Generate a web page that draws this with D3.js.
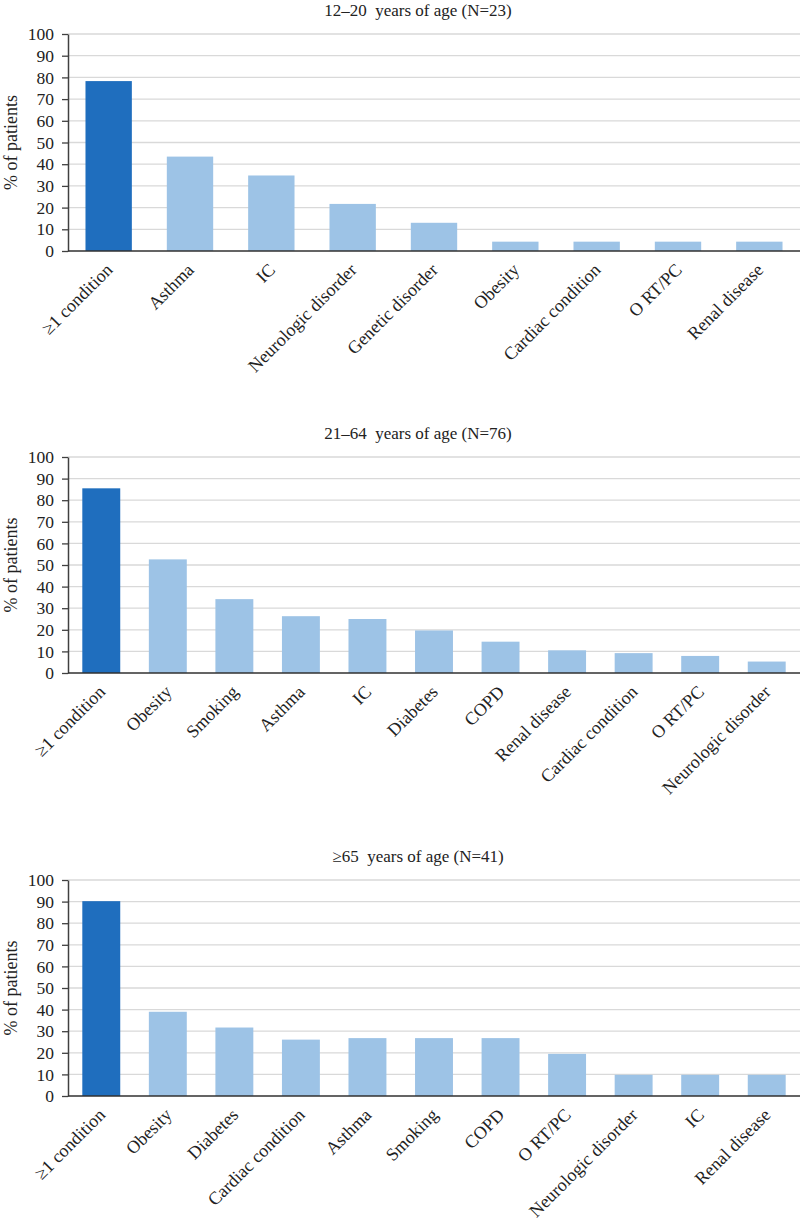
<!DOCTYPE html>
<html>
<head>
<meta charset="utf-8">
<script src="https://cdn.jsdelivr.net/npm/d3@7"></script>
<style>
  html, body { margin: 0; padding: 0; background: #fff; }
  svg { display: block; font-family: "Liberation Serif", "Times New Roman", serif; }
</style>
</head>
<body>
<svg width="800" height="1228"></svg>
<script>
const titles = [
  "12\u201320  years of age (N=23)",
  "21\u201364  years of age (N=76)",
  "\u226565  years of age (N=41)"
];

const cats1 = ["\u22651 condition", "Asthma", "IC", "Neurologic disorder", "Genetic disorder",
  "Obesity", "Cardiac condition", "O RT/PC", "Renal disease"];
const vals1 = [78.3, 43.5, 34.8, 21.7, 13.0, 4.3, 4.3, 4.3, 4.3];

const cats2 = ["\u22651 condition", "Obesity", "Smoking", "Asthma", "IC", "Diabetes", "COPD",
  "Renal disease", "Cardiac condition", "O RT/PC", "Neurologic disorder"];
const vals2 = [85.5, 52.6, 34.2, 26.3, 25.0, 19.7, 14.5, 10.5, 9.2, 7.9, 5.3];

const cats3 = ["\u22651 condition", "Obesity", "Diabetes", "Cardiac condition", "Asthma", "Smoking",
  "COPD", "O RT/PC", "Neurologic disorder", "IC", "Renal disease"];
const vals3 = [90.2, 39.0, 31.7, 26.1, 26.8, 26.8, 26.8, 19.5, 9.8, 9.8, 9.8];

const yTicks = [0, 10, 20, 30, 40, 50, 60, 70, 80, 90, 100];

/* -----------------------------
   Panel layout (top = 100 line, bottom = baseline)
----------------------------- */

const panels = [
  { title: titles[0], cats: cats1, vals: vals1, top: 34, bottom: 251 },
  { title: titles[1], cats: cats2, vals: vals2, top: 457, bottom: 673 },
  { title: titles[2], cats: cats3, vals: vals3, top: 880, bottom: 1096 }
];

const left = 68, right = 800;
const darkBlue = "#1f6ebe", lightBlue = "#9dc3e6";

const svg = d3.select("svg");

panels.forEach(p => {

  const g = svg.append("g");

  const x = d3.scaleBand()
    .domain(p.cats)
    .range([left, right])
    .paddingInner(0.43)
    .paddingOuter(0.215);

  const y = d3.scaleLinear()
    .domain([0, 100])
    .range([p.bottom, p.top]);

  // gridlines
  g.selectAll(".grid")
    .data(yTicks.filter(t => t > 0))
    .enter()
    .append("line")
    .attr("x1", left)
    .attr("x2", right)
    .attr("y1", d => y(d))
    .attr("y2", d => y(d))
    .attr("stroke", "#d9d9d9")
    .attr("stroke-width", 1.3);

  // bars
  g.selectAll(".bar")
    .data(p.vals)
    .enter()
    .append("rect")
    .attr("x", (d, i) => x(p.cats[i]))
    .attr("y", d => y(d))
    .attr("width", x.bandwidth())
    .attr("height", d => y(0) - y(d))
    .attr("fill", (d, i) => i === 0 ? darkBlue : lightBlue);

  // y axis
  const yAxis = g.append("g")
    .attr("transform", `translate(${left},0)`)
    .call(d3.axisLeft(y).tickValues(yTicks).tickSize(6).tickPadding(8).tickSizeOuter(0));

  yAxis.select(".domain").attr("stroke", "#404040").attr("stroke-width", 1.5);
  yAxis.selectAll(".tick line").attr("stroke", "#404040").attr("stroke-width", 1.3);
  yAxis.selectAll(".tick text")
    .attr("fill", "#222")
    .style("font-size", "17.5px")
    .style("font-family", "Liberation Serif, serif");

  // baseline
  g.append("line")
    .attr("x1", left)
    .attr("x2", right)
    .attr("y1", y(0))
    .attr("y2", y(0))
    .attr("stroke", "#303030")
    .attr("stroke-width", 1.6);

  // category labels
  g.selectAll(".cat")
    .data(p.cats)
    .enter()
    .append("text")
    .attr("transform", d =>
      `translate(${x(d) + x.bandwidth() / 2 + 5},${y(0) + 20}) rotate(-45)`)
    .attr("text-anchor", "end")
    .attr("fill", "#222")
    .style("font-size", "18px")
    .text(d => d);

  // title
  g.append("text")
    .attr("x", 418)
    .attr("y", p.top - 18.5)
    .attr("text-anchor", "middle")
    .attr("xml:space", "preserve")
    .attr("fill", "#222")
    .style("font-size", "17px")
    .style("white-space", "pre")
    .text(p.title);

  // y label
  g.append("text")
    .attr("transform", `translate(16.5,${(p.top + p.bottom) / 2}) rotate(-90)`)
    .attr("text-anchor", "middle")
    .attr("fill", "#222")
    .style("font-size", "18px")
    .text("% of patients");
});
</script>
</body>
</html>
